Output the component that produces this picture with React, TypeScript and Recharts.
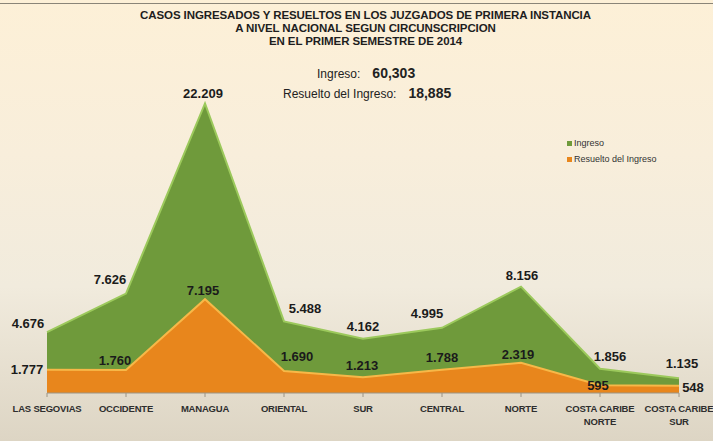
import React from "react";
import { AreaChart, Area, XAxis, YAxis, LabelList } from "recharts";

const circunscripciones = [
  "LAS SEGOVIAS",
  "OCCIDENTE",
  "MANAGUA",
  "ORIENTAL",
  "SUR",
  "CENTRAL",
  "NORTE",
  "COSTA CARIBE NORTE",
  "COSTA CARIBE SUR",
];
const ingreso = [4676, 7626, 22209, 5488, 4162, 4995, 8156, 1856, 1135];
const resuelto = [1777, 1760, 7195, 1690, 1213, 1788, 2319, 595, 548];
const labelsIngreso = ["4.676", "7.626", "22.209", "5.488", "4.162", "4.995", "8.156", "1.856", "1.135"];
const labelsResuelto = ["1.777", "1.760", "7.195", "1.690", "1.213", "1.788", "2.319", "595", "548"];

const data = circunscripciones.map((name, i) => ({
  name,
  ingreso: ingreso[i],
  resuelto: resuelto[i],
}));

// nudges so the labels sit where the original had them
const offIngreso = [[-19, -9], [-16, -14], [-2, -10], [21, -13], [0, -12], [-15, -14], [1, -11], [10, -12], [3, -15]];
const offResuelto = [[-20, 0], [-11, -10], [-2, -9], [13, -14], [-1, -12], [0, -12], [-3, -8], [-2, 0], [14, 2]];

const makeLabel = (texts: string[], offs: number[][]) => (props: any) => {
  const { x, y, index } = props;
  const [dx, dy] = offs[index];
  return (
    <text
      x={x + dx}
      y={y + dy}
      textAnchor="middle"
      dominantBaseline="central"
      fontFamily="Liberation Sans, Arial, sans-serif"
      fontWeight="bold"
      fontSize={13}
      fill="#1b1b1b"
    >
      {texts[index]}
    </text>
  );
};

const XTick = (props: any) => {
  const { x, y, payload } = props;
  const v: string = payload.value;
  const lines = v.startsWith("COSTA CARIBE") ? ["COSTA CARIBE", v.replace("COSTA CARIBE ", "")] : [v];
  return (
    <text
      x={x}
      y={y + 13}
      textAnchor="middle"
      fontFamily="Liberation Sans, Arial, sans-serif"
      fontWeight="bold"
      fontSize={9.5}
      letterSpacing={-0.2}
      fill="#2e2e2e"
    >
      {lines.map((l, i) => (
        <tspan key={i} x={x} dy={i === 0 ? 0 : 13}>
          {l}
        </tspan>
      ))}
    </text>
  );
};

const swatch = (c: string) => (
  <span style={{ display: "inline-block", width: 5, height: 5, background: c, marginRight: 2, verticalAlign: "middle" }} />
);

export default function App() {
  return (
    <div
      style={{
        position: "absolute",
        left: 0,
        top: 0,
        width: 713,
        height: 441,
        background: "linear-gradient(180deg, #fdf0d7 0%, #f8eedb 35%, #f1ebdd 65%, #ddd5c4 100%)",
        overflow: "hidden",
        fontFamily: "Liberation Sans, Arial, sans-serif",
      }}
    >
      <div style={{ position: "absolute", left: 0, top: 3, width: 713, height: 1, background: "#8a8578" }} />
      <div
        style={{
          position: "absolute",
          left: 9,
          top: 9,
          width: 713,
          textAlign: "center",
          fontWeight: "bold",
          fontSize: 11.5,
          lineHeight: "13px",
          color: "#1e1e1e",
          letterSpacing: -0.1,
        }}
      >
        <div>CASOS INGRESADOS Y RESUELTOS EN LOS JUZGADOS DE PRIMERA INSTANCIA</div>
        <div>A NIVEL NACIONAL SEGUN CIRCUNSCRIPCION</div>
        <div>EN EL PRIMER SEMESTRE DE 2014</div>
      </div>
      <div style={{ position: "absolute", left: 317, top: 65, fontSize: 12, color: "#222", whiteSpace: "nowrap" }}>
        Ingreso:
        <span style={{ fontWeight: "bold", fontSize: 14, marginLeft: 12 }}>60,303</span>
      </div>
      <div style={{ position: "absolute", left: 283, top: 85, fontSize: 12, color: "#222", whiteSpace: "nowrap" }}>
        Resuelto del Ingreso:
        <span style={{ fontWeight: "bold", fontSize: 14, marginLeft: 12 }}>18,885</span>
      </div>
      <div
        style={{
          position: "absolute",
          left: 567,
          top: 135,
          fontSize: 9,
          color: "#333",
          lineHeight: "16px",
          whiteSpace: "nowrap",
        }}
      >
        <div>{swatch("#6f9a3b")}Ingreso</div>
        <div>{swatch("#e8861c")}Resuelto del Ingreso</div>
      </div>
      <AreaChart
        width={713}
        height={441}
        data={data}
        margin={{ top: 67, right: 34, left: 47, bottom: 0 }}
        style={{ position: "absolute", left: 0, top: 0 }}
      >
        <XAxis
          dataKey="name"
          height={48}
          interval={0}
          axisLine={{ stroke: "#9c9484" }}
          tickLine={{ stroke: "#9c9484" }}
          tickSize={4}
          tick={<XTick />}
        />
        <YAxis hide domain={[0, 25000]} />
        <Area
          type="linear"
          dataKey="ingreso"
          name="Ingreso"
          fill="#6f9a3b"
          fillOpacity={1}
          stroke="#9cc95c"
          strokeWidth={2}
          isAnimationActive={false}
        >
          <LabelList dataKey="ingreso" content={makeLabel(labelsIngreso, offIngreso)} />
        </Area>
        <Area
          type="linear"
          dataKey="resuelto"
          name="Resuelto del Ingreso"
          fill="#e8861c"
          fillOpacity={1}
          stroke="#f7b848"
          strokeWidth={2}
          isAnimationActive={false}
        >
          <LabelList dataKey="resuelto" content={makeLabel(labelsResuelto, offResuelto)} />
        </Area>
      </AreaChart>
    </div>
  );
}
